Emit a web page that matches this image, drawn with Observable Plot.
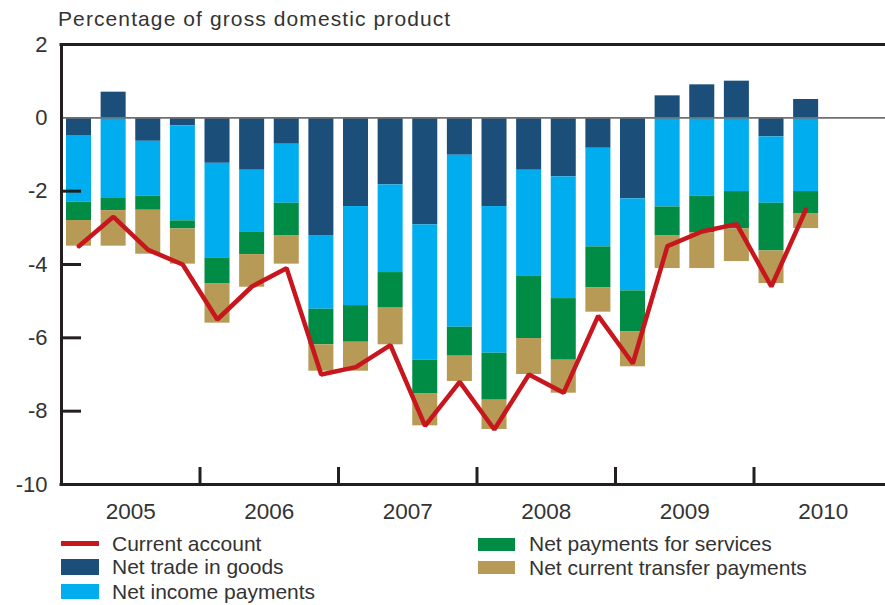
<!DOCTYPE html>
<html><head><meta charset="utf-8">
<script src="https://cdn.jsdelivr.net/npm/d3@7"></script>
<script src="https://cdn.jsdelivr.net/npm/@observablehq/plot@0.6"></script>
<style>
body{margin:0;background:#fff;font-family:"Liberation Sans",Arial,sans-serif;color:#333;}
#wrap{position:relative;width:885px;height:605px;overflow:hidden;}
#chart{position:absolute;left:0;top:0;}
#title{position:absolute;left:58px;top:8px;font-size:21px;line-height:22px;letter-spacing:1.1px;white-space:nowrap;}
.item{position:absolute;height:24px;display:flex;align-items:center;font-size:21px;white-space:nowrap;}
.sw{display:inline-block;flex:none;}
</style></head>
<body>
<div id="wrap"><div id="chart"></div><div id="title">Percentage of gross domestic product</div><div id="legend"></div></div>
<script>
const quarters = ["2005 Q1","2005 Q2","2005 Q3","2005 Q4","2006 Q1","2006 Q2","2006 Q3","2006 Q4",
  "2007 Q1","2007 Q2","2007 Q3","2007 Q4","2008 Q1","2008 Q2","2008 Q3","2008 Q4",
  "2009 Q1","2009 Q2","2009 Q3","2009 Q4","2010 Q1","2010 Q2"];
const goods     = [-0.5, 0.7, -0.64, -0.22, -1.24, -1.43, -0.72, -3.21, -2.42, -1.83, -2.92, -1.02, -2.42, -1.43, -1.61, -0.83, -2.21, 0.6, 0.9, 1.0, -0.52, 0.5];
const income    = [-1.8, -2.2, -1.5, -2.59, -2.58, -1.68, -1.61, -2.01, -2.7, -2.39, -3.69, -4.69, -4.0, -2.88, -3.32, -2.69, -2.51, -2.43, -2.14, -2.01, -1.81, -2.01];
const services  = [-0.5, -0.33, -0.38, -0.22, -0.7, -0.62, -0.88, -0.97, -1.0, -0.97, -0.91, -0.79, -1.28, -1.71, -1.68, -1.11, -1.11, -0.78, -0.99, -1.02, -1.3, -0.6];
const transfers = [-0.7, -0.97, -1.2, -0.96, -1.08, -0.89, -0.78, -0.72, -0.79, -1.0, -0.88, -0.69, -0.8, -0.98, -0.9, -0.67, -0.96, -0.9, -0.98, -0.89, -0.89, -0.41];
const current   = [-3.5, -2.7, -3.6, -4.0, -5.5, -4.6, -4.1, -7.0, -6.8, -6.2, -8.4, -7.2, -8.5, -7.0, -7.5, -5.4, -6.7, -3.5, -3.1, -2.9, -4.6, -2.5];

const seriesNames = ["Net trade in goods","Net income payments","Net payments for services","Net current transfer payments"];
const seriesColors = ["#1b4f7a","#00aeef","#008c45","#b79a56"];
const lineName = "Current account";
const lineColor = "#c8161e";
const yTicks = [2,0,-2,-4,-6,-8,-10];
const yearLabels = ["2005","2006","2007","2008","2009","2010"];
const yearBreaks = ["2006","2007","2008","2009","2010"];

const toT = q => +q.slice(0,4) + (+q.slice(6) - 1) / 4;
const seriesArrays = [goods, income, services, transfers];
const rows = [];
quarters.forEach((q, i) => {
  const t = toT(q);
  seriesArrays.forEach((arr, k) => rows.push({t1: t, t2: t + 0.25, series: seriesNames[k], value: arr[i]}));
});
const lineRows = quarters.map((q, i) => ({t: toT(q) + 0.125, value: current[i]}));

const ink = "#231f20";
const chart = Plot.plot({
  width: 885, height: 530,
  marginLeft: 61, marginRight: 0, marginTop: 44, marginBottom: 46,
  style: {fontFamily: '"Liberation Sans", Arial, sans-serif', color: "#333", background: "transparent", overflow: "hidden"},
  x: {domain: [2005, 2011], range: [61, 892]},
  y: {domain: [-10, 2], label: null},
  color: {domain: seriesNames, range: seriesColors},
  marks: [
    Plot.rectY(rows, {x1: "t1", x2: "t2", y: "value", fill: "series", insetLeft: 5, insetRight: 4.6}),
    Plot.ruleY([0], {stroke: "#707070", strokeWidth: 1.6}),
    Plot.ruleY([2, -10], {stroke: ink, strokeWidth: 3, strokeLinecap: "square"}),
    Plot.ruleX([2005], {stroke: ink, strokeWidth: 3}),
    Plot.axisY({ticks: yTicks, tickSize: 0, tickPadding: 14, tickFormat: d => String(d), fontSize: 22, fill: "#333", label: null}),
    Plot.axisY({ticks: [-8, -6, -4, -2], tickSize: -20, stroke: ink, strokeWidth: 3, fill: "none", label: null}),
    Plot.axisX({ticks: yearBreaks.map(Number), tickSize: -17, stroke: ink, strokeWidth: 3, fill: "none", label: null}),
    Plot.axisX({ticks: yearLabels.map(y => +y + 0.5), tickFormat: (d, i) => yearLabels[i], tickSize: 0, tickPadding: 19, fontSize: 22.5, fill: "#333", label: null}),
    Plot.line(lineRows, {x: "t", y: "value", stroke: lineColor, strokeWidth: 4.5, strokeLinejoin: "miter"})
  ]
});
document.getElementById("chart").appendChild(chart);

const legendItems = [
  {name: lineName, color: lineColor, left: 61, cy: 543.5, sw: [38, 5], gap: 13},
  {name: seriesNames[0], color: seriesColors[0], left: 61, cy: 567, sw: [38, 16], gap: 13},
  {name: seriesNames[1], color: seriesColors[1], left: 61, cy: 591.5, sw: [38, 15], gap: 13},
  {name: seriesNames[2], color: seriesColors[2], left: 478, cy: 544, sw: [37, 13], gap: 14},
  {name: seriesNames[3], color: seriesColors[3], left: 478, cy: 567.5, sw: [37, 13], gap: 14}
];
const leg = document.getElementById("legend");
legendItems.forEach(it => {
  const d = document.createElement("div");
  d.className = "item";
  d.style.left = it.left + "px";
  d.style.top = (it.cy - 12) + "px";
  const s = document.createElement("span");
  s.className = "sw";
  s.style.width = it.sw[0] + "px"; s.style.height = it.sw[1] + "px";
  s.style.background = it.color; s.style.marginRight = it.gap + "px";
  d.appendChild(s);
  d.appendChild(document.createTextNode(it.name));
  leg.appendChild(d);
});
</script>
</body></html>
